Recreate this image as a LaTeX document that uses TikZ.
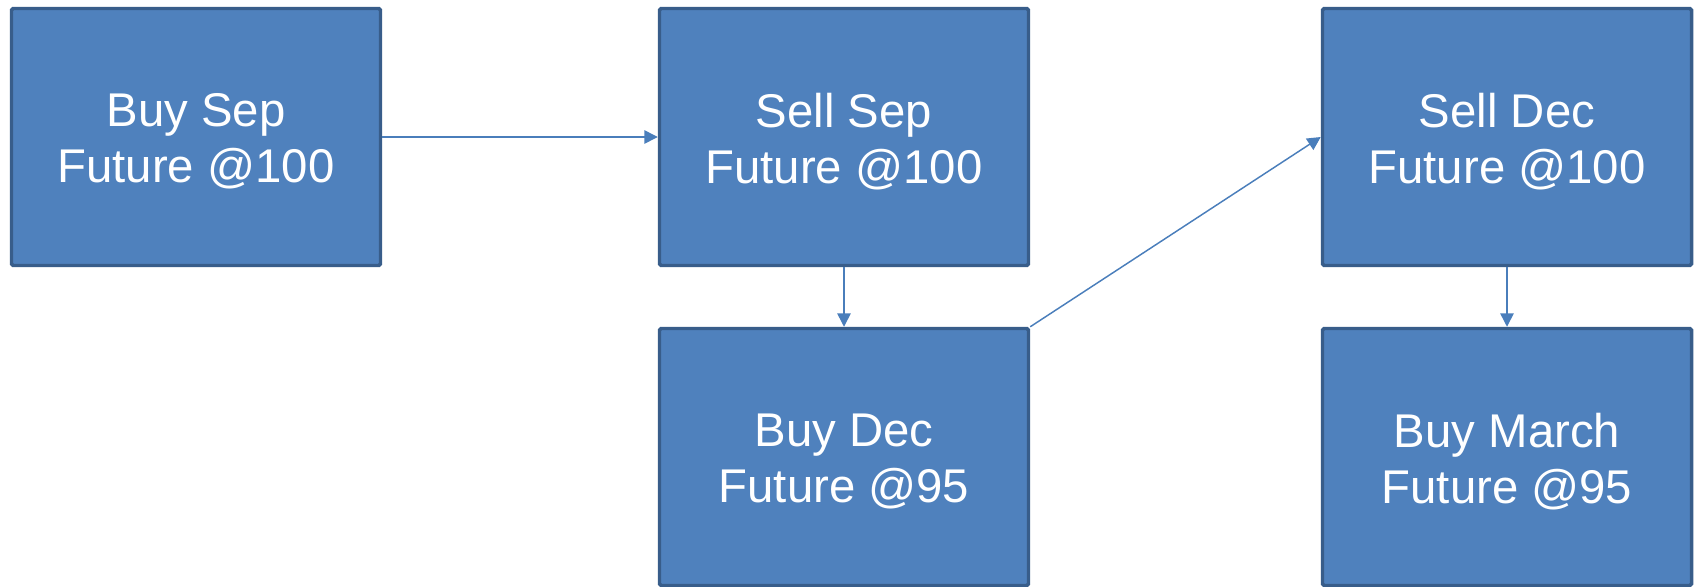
\documentclass[tikz,border=0pt]{standalone}
\usepackage{fontspec}
\setmainfont{Liberation Sans}
\usetikzlibrary{arrows.meta}

\definecolor{boxFill}{HTML}{4F81BD}
\definecolor{boxLine}{HTML}{385D8A}
\definecolor{arrowLine}{HTML}{4A7EBB}

\tikzset{every picture/.style={line width=0.75pt}}
\tikzset{
  boxtext/.style={text=white, align=center, inner sep=0pt, yshift=-3.5pt,
    font=\fontsize{35.5pt}{42pt}\selectfont},
  futbox/.style={draw=boxLine, fill=boxFill, line width=2.6pt, rounded corners=1.2pt,
    minimum width=276.75pt, minimum height=192.75pt, inner sep=0pt,
    label={[boxtext]center:#1}},
  conn/.style={draw=arrowLine, line width=1.1pt, -{Triangle[length=10pt,width=10pt]}}
}

\begin{document}
\begin{tikzpicture}[x=0.75pt,y=0.75pt,yscale=-1,xscale=1]
\useasboundingbox (0,0) rectangle (1696,586); %set diagram to the size of the reference

%Shape: Rectangle [id:buySep] 
\draw (196,137) node [futbox={Buy Sep\\Future @100}] (buySep) {};
%Shape: Rectangle [id:sellSep] 
\draw (844,137) node [futbox={Sell Sep\\Future @100}] (sellSep) {};
%Shape: Rectangle [id:buyDec] 
\draw (844,457) node [futbox={Buy Dec\\Future @95}] (buyDec) {};
%Shape: Rectangle [id:sellDec] 
\draw (1507,137) node [futbox={Sell Dec\\Future @100}] (sellDec) {};
%Shape: Rectangle [id:buyMar] 
\draw (1507,457) node [futbox={Buy March\\Future @95}] (buyMar) {};

%Straight Lines [id:arrSepSep] 
\draw [conn] (buySep.east) -- (sellSep.west) ;
%Straight Lines [id:arrSepDec] 
\draw [conn] (sellSep.south) -- (buyDec.north) ;
%Straight Lines [id:arrDecDec] 
\draw [conn] (buyDec.north east) -- (sellDec.west) ;
%Straight Lines [id:arrDecMar] 
\draw [conn] (sellDec.south) -- (buyMar.north) ;

\end{tikzpicture}
\end{document}
